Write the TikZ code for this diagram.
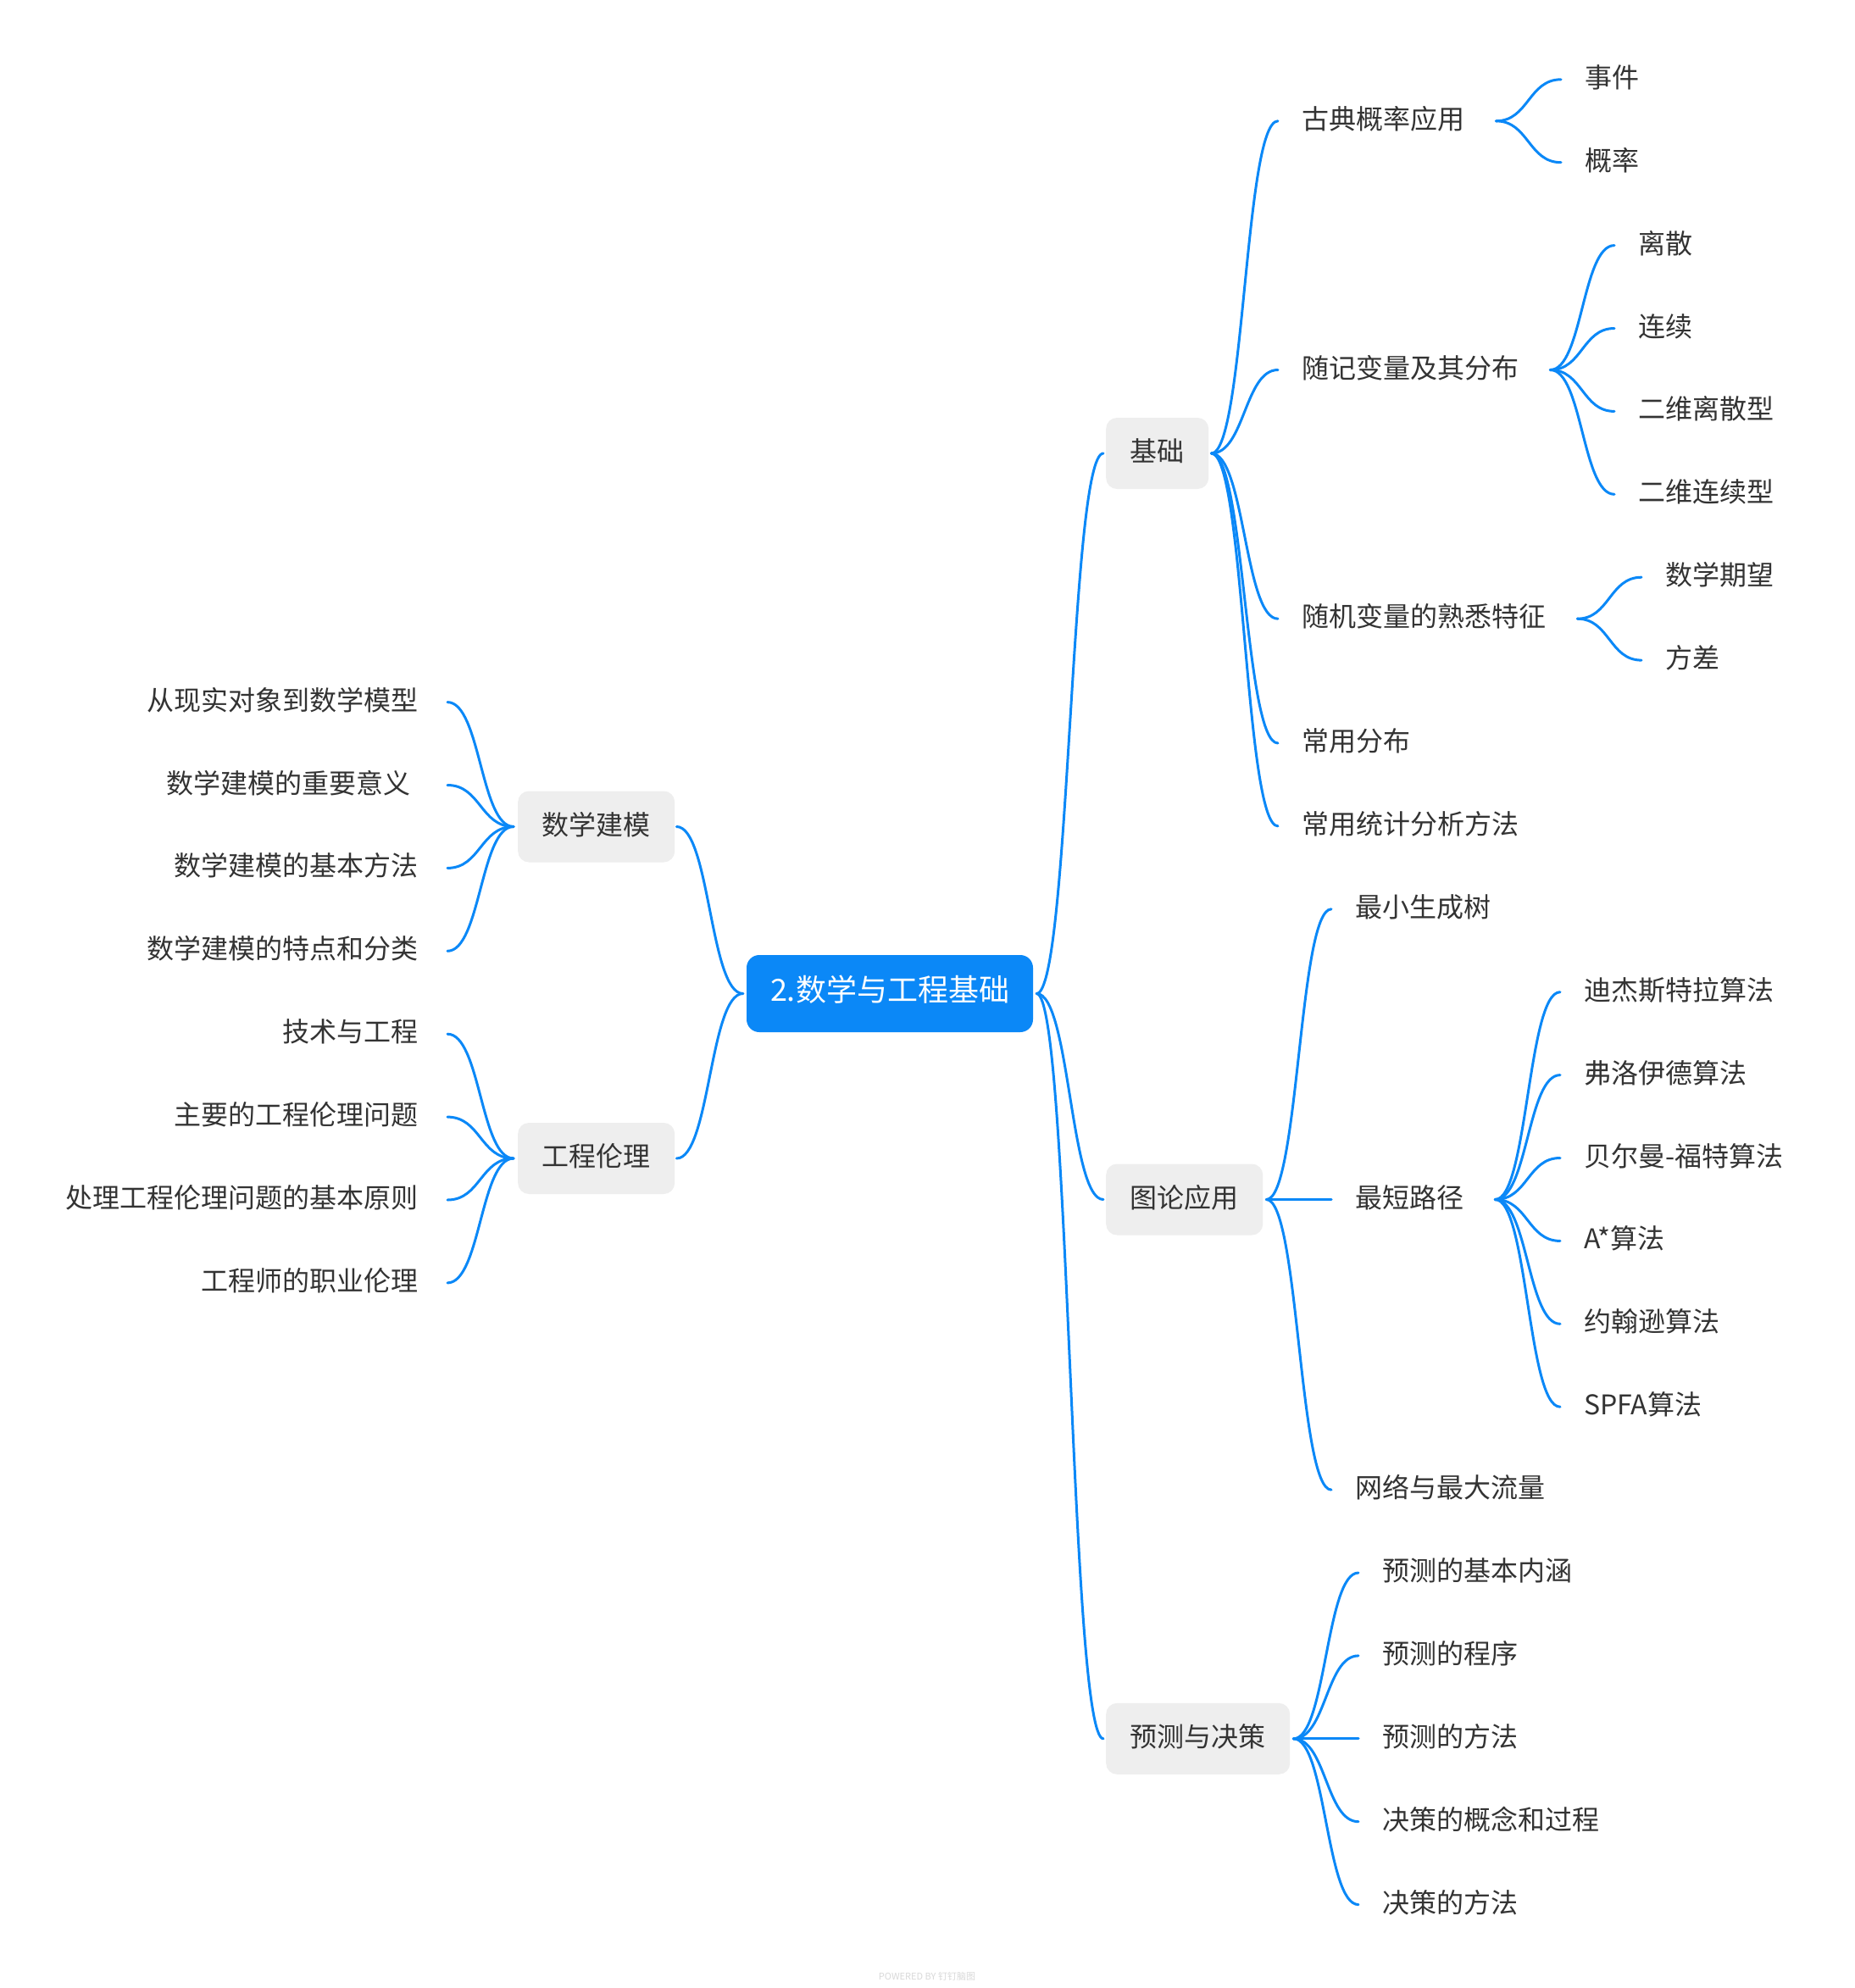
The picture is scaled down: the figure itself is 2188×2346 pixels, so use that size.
\documentclass[tikz,border=0pt]{standalone}
\usepackage{fontspec}
\setmainfont{Noto Sans CJK SC}
\usetikzlibrary{calc}
\definecolor{mmblue}{HTML}{0B88F7}
\definecolor{mmgray}{HTML}{EEEEEE}
\definecolor{mmtext}{HTML}{333333}
\definecolor{mmfaint}{HTML}{D9D9D9}
\newcommand\mmlink[2]{\draw[link] let \p1=#1, \p2=#2 in (\p1) .. controls ({(\x1+\x2)/2},\y1) and ({(\x1+\x2)/2},\y2) .. (\p2);}
\begin{document}
\begin{tikzpicture}[x=1pt,y=-1pt,
  base/.style={font=\fontsize{32}{38}\selectfont, text=mmtext, inner sep=0pt, text height=26pt, text depth=7pt},
  leafR/.style={base, anchor=west},
  leafL/.style={base, anchor=east},
  topic/.style={base, fill=mmgray, rounded corners=13pt, inner xsep=28.5pt, minimum height=84pt, anchor=west},
  root/.style={font=\fontsize{36}{42}\selectfont, text=white, fill=mmblue, rounded corners=15pt, minimum width=338pt, minimum height=91pt, inner sep=0pt, text height=27pt, text depth=9pt},
  link/.style={draw=mmblue, line width=3pt, line cap=round},
  faint/.style={font=\fontsize{11}{13}\selectfont, text=mmfaint, inner sep=0pt}]
\fill[white] (0,0) rectangle (2188,2346);
\useasboundingbox (0,0) rectangle (2188,2346);

% root
\node[root] (rt) at (1050,1172.5) {2.数学与工程基础};

% main topics
\node[topic] (jc) at (1305,535) {基础};
\node[topic] (tl) at (1305,1415.5) {图论应用};
\node[topic] (yc) at (1305,2051.8) {预测与决策};
\node[topic] (jm) at (611,975.5) {数学建模};
\node[topic] (ll) at (611,1367) {工程伦理};

% 基础 children
\node[leafR] (g1) at (1536,142.8) {古典概率应用};
\node[leafR] (g2) at (1536,436.5) {随记变量及其分布};
\node[leafR] (g3) at (1536,730.2) {随机变量的熟悉特征};
\node[leafR] (g4) at (1536,877.0) {常用分布};
\node[leafR] (g5) at (1536,974.9) {常用统计分析方法};

\node[leafR] (g1a) at (1870,93.8) {事件};
\node[leafR] (g1b) at (1870,191.7) {概率};

\node[leafR] (g2a) at (1933,289.6) {离散};
\node[leafR] (g2b) at (1933,387.5) {连续};
\node[leafR] (g2c) at (1933,485.4) {二维离散型};
\node[leafR] (g2d) at (1933,583.3) {二维连续型};

\node[leafR] (g3a) at (1965,681.2) {数学期望};
\node[leafR] (g3b) at (1965,779.1) {方差};

% 图论应用 children
\node[leafR] (t1) at (1599,1072.8) {最小生成树};
\node[leafR] (t2) at (1599,1415.5) {最短路径};
\node[leafR] (t3) at (1599,1758.1) {网络与最大流量};

\node[leafR] (t2a) at (1869,1170.7) {迪杰斯特拉算法};
\node[leafR] (t2b) at (1869,1268.6) {弗洛伊德算法};
\node[leafR] (t2c) at (1869,1366.5) {贝尔曼-福特算法};
\node[leafR] (t2d) at (1869,1464.4) {A*算法};
\node[leafR] (t2e) at (1869,1562.3) {约翰逊算法};
\node[leafR] (t2f) at (1869,1660.2) {SPFA算法};

% 预测与决策 children
\node[leafR] (y1) at (1631,1856.0) {预测的基本内涵};
\node[leafR] (y2) at (1631,1953.9) {预测的程序};
\node[leafR] (y3) at (1631,2051.8) {预测的方法};
\node[leafR] (y4) at (1631,2149.7) {决策的概念和过程};
\node[leafR] (y5) at (1631,2247.6) {决策的方法};

% left leaves
\node[leafL] (m1) at (494,828.6) {从现实对象到数学模型};
\node[leafL] (m2) at (494,926.5) {数学建模的重要意义\hspace*{9pt}};
\node[leafL] (m3) at (494,1024.4) {数学建模的基本方法};
\node[leafL] (m4) at (494,1122.3) {数学建模的特点和分类};

\node[leafL] (e1) at (494,1220.2) {技术与工程};
\node[leafL] (e2) at (494,1318.1) {主要的工程伦理问题};
\node[leafL] (e3) at (494,1416.0) {处理工程伦理问题的基本原则};
\node[leafL] (e4) at (494,1513.9) {工程师的职业伦理};

% footer
\node[faint] (pw) at (1094,2332) {POWERED BY 钉钉脑图};

% links: root
\mmlink{([xshift=4pt]rt.east)}{([xshift=-3pt]jc.west)}
\mmlink{([xshift=4pt]rt.east)}{([xshift=-3pt]tl.west)}
\mmlink{([xshift=4pt]rt.east)}{([xshift=-3pt]yc.west)}
\mmlink{([xshift=-4pt]rt.west)}{([xshift=2pt]jm.east)}
\mmlink{([xshift=-4pt]rt.west)}{([xshift=2pt]ll.east)}

% 基础
\foreach \c in {g1,g2,g3,g4,g5}{\mmlink{([xshift=3pt]jc.east)}{([xshift=-28pt]\c.west)}}
\foreach \c in {g1a,g1b}{\mmlink{([xshift=37pt]g1.east)}{([xshift=-28pt]\c.west)}}
\foreach \c in {g2a,g2b,g2c,g2d}{\mmlink{([xshift=37pt]g2.east)}{([xshift=-28pt]\c.west)}}
\foreach \c in {g3a,g3b}{\mmlink{([xshift=37pt]g3.east)}{([xshift=-28pt]\c.west)}}

% 图论应用
\foreach \c in {t1,t2,t3}{\mmlink{([xshift=4pt]tl.east)}{([xshift=-28pt]\c.west)}}
\foreach \c in {t2a,t2b,t2c,t2d,t2e,t2f}{\mmlink{([xshift=37pt]t2.east)}{([xshift=-28pt]\c.west)}}

% 预测与决策
\foreach \c in {y1,y2,y3,y4,y5}{\mmlink{([xshift=4pt]yc.east)}{([xshift=-28pt]\c.west)}}

% left
\foreach \c in {m1,m2,m3,m4}{\mmlink{([xshift=-5pt]jm.west)}{([xshift=34pt]\c.east)}}
\foreach \c in {e1,e2,e3,e4}{\mmlink{([xshift=-5pt]ll.west)}{([xshift=34pt]\c.east)}}
\end{tikzpicture}
\end{document}
